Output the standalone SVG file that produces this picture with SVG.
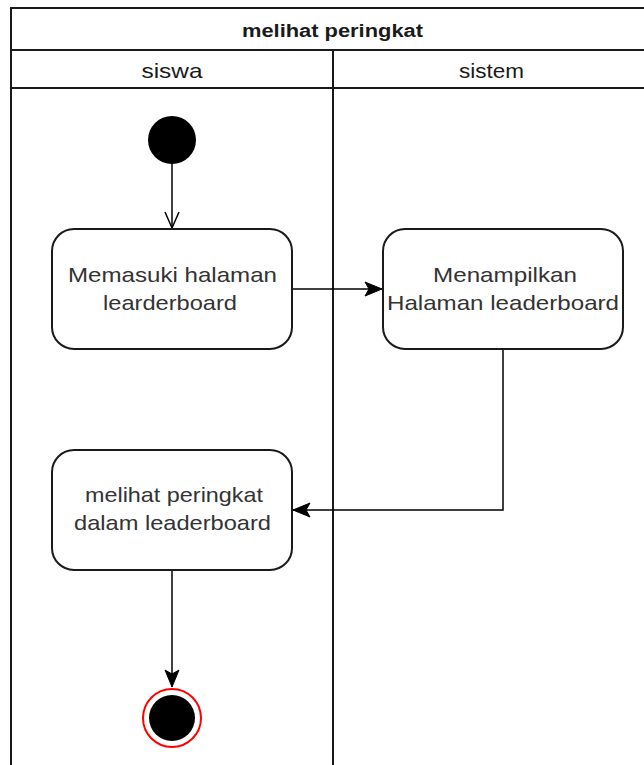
<svg xmlns="http://www.w3.org/2000/svg" width="644" height="765" viewBox="0 0 644 765">
  <style>
    .frame { fill: none; stroke: #1a1a1a; stroke-width: 2; }
    .node { fill: #ffffff; stroke: #1a1a1a; stroke-width: 2; }
    .edge { fill: none; stroke: #000000; stroke-width: 1.5; }
    .lbl { font-family: "Liberation Sans", Arial, sans-serif; font-size: 21px; fill: #333333; text-anchor: middle; }
    .head { font-family: "Liberation Sans", Arial, sans-serif; font-size: 21px; fill: #1a1a1a; text-anchor: middle; }
    .title { font-family: "Liberation Sans", Arial, sans-serif; font-size: 18px; font-weight: bold; fill: #1a1a1a; text-anchor: middle; }
  </style>
  <defs>
    <marker id="open" viewBox="0 0 20 20" refX="18" refY="10" markerWidth="20" markerHeight="20" markerUnits="userSpaceOnUse" orient="auto">
      <path d="M2,3 L18,10 L2,17" fill="none" stroke="#000" stroke-width="1.5"/>
    </marker>
    <marker id="solid" viewBox="0 0 20 20" refX="18" refY="10" markerWidth="20" markerHeight="20" markerUnits="userSpaceOnUse" orient="auto">
      <path d="M1,3 L18,10 L1,17 L5,10 Z" fill="#000" stroke="#000" stroke-width="1"/>
    </marker>
  </defs>
  <rect width="644" height="765" fill="#ffffff"/>

  <!-- swimlane frame -->
  <g id="pool">
    <rect class="frame" x="11" y="8" width="640" height="770"/>
    <line class="frame" x1="11" y1="50" x2="651" y2="50"/>
    <line class="frame" x1="11" y1="88" x2="651" y2="88"/>
    <line class="frame" x1="333" y1="50" x2="333" y2="778"/>
    <text class="title" x="332.5" y="37" textLength="181" lengthAdjust="spacingAndGlyphs">melihat peringkat</text>
    <text class="head" x="172" y="78" textLength="61" lengthAdjust="spacingAndGlyphs">siswa</text>
    <text class="head" x="491.5" y="78" textLength="65" lengthAdjust="spacingAndGlyphs">sistem</text>
  </g>

  <!-- connectors -->
  <g id="connectors">
    <line class="edge" x1="172" y1="164" x2="172" y2="228" marker-end="url(#open)"/>
    <line class="edge" x1="292" y1="289" x2="382" y2="289" marker-end="url(#solid)"/>
    <polyline class="edge" points="503,349 503,510 293,510" marker-end="url(#solid)"/>
    <line class="edge" x1="172" y1="570" x2="172" y2="687" marker-end="url(#solid)"/>
  </g>

  <g id="start">
    <circle cx="172" cy="140" r="24" fill="#000"/>
  </g>

  <g id="memasuki">
    <rect class="node" x="52" y="229" width="240" height="120" rx="22"/>
    <text class="lbl" x="172.5" y="282" textLength="209" lengthAdjust="spacingAndGlyphs">Memasuki halaman</text>
    <text class="lbl" x="170" y="310" textLength="134" lengthAdjust="spacingAndGlyphs">learderboard</text>
  </g>

  <g id="menampilkan">
    <rect class="node" x="383" y="229" width="240" height="120" rx="22"/>
    <text class="lbl" x="505" y="282" textLength="144" lengthAdjust="spacingAndGlyphs">Menampilkan</text>
    <text class="lbl" x="503" y="310" textLength="232" lengthAdjust="spacingAndGlyphs">Halaman leaderboard</text>
  </g>

  <g id="melihat">
    <rect class="node" x="52" y="450" width="240" height="120" rx="22"/>
    <text class="lbl" x="174" y="502" textLength="178" lengthAdjust="spacingAndGlyphs">melihat peringkat</text>
    <text class="lbl" x="172.5" y="530" textLength="197" lengthAdjust="spacingAndGlyphs">dalam leaderboard</text>
  </g>

  <g id="end">
    <circle cx="172" cy="718" r="29" fill="#fff" stroke="#ff0000" stroke-width="2"/>
    <circle cx="172" cy="718" r="23" fill="#000"/>
  </g>
</svg>
